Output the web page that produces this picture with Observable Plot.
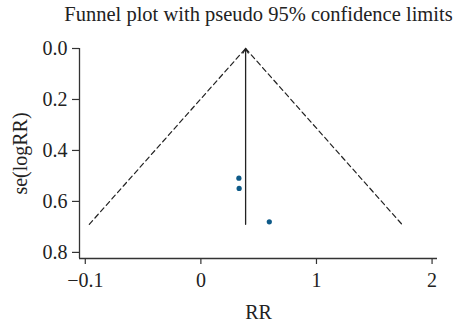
<!DOCTYPE html>
<html><head><meta charset="utf-8">
<script src="https://cdn.jsdelivr.net/npm/d3@7"></script>
<script src="https://cdn.jsdelivr.net/npm/@observablehq/plot@0.6"></script>
<style>body{margin:0;background:#fff}</style>
</head><body><div id="chart"></div>
<script>
// study estimates (x in axis units) and their standard errors
const studyX = [0.329, 0.331, 0.592];
const studySE = [0.509, 0.549, 0.680];
// pooled estimate and largest se used for the pseudo 95% limits
const pooledX = 0.387;
const seMax = 0.69;
const xTicks = [-1, 0, 1, 2];
const xTickLabels = ["\u22120.1", "0", "1", "2"];
const yTicks = [0, 0.2, 0.4, 0.6, 0.8];
const yTickLabels = ["0.0", "0.2", "0.4", "0.6", "0.8"];
const titleText = "Funnel plot with pseudo 95% confidence limits";
const xLabel = "RR";
const yLabel = "se(logRR)";

const studies = studyX.map((x, i) => ({x, se: studySE[i]}));
const leftLimit = [{x: pooledX - 1.96 * seMax, se: seMax}, {x: pooledX, se: 0}];
const rightLimit = [{x: pooledX, se: 0}, {x: pooledX + 1.96 * seMax, se: seMax}];

const xDom = [-1.05, 2.047];
const yDom = [0, 0.824];
const font = "Liberation Serif, Times New Roman, serif";
const ink = "#333";

const chart = Plot.plot({
  width: 456, height: 324,
  marginLeft: 79, marginRight: 19, marginTop: 48, marginBottom: 66,
  style: {fontFamily: font, fontSize: "20px", color: "#222", background: "#fff"},
  x: {domain: xDom, axis: null},
  y: {domain: yDom, reverse: true, axis: null},
  marks: [
    Plot.axisX({ticks: xTicks, tickFormat: (d, i) => xTickLabels[i], tickSize: 6, tickPadding: 8, label: null, stroke: ink, strokeWidth: 1.2, fontSize: 20}),
    Plot.axisY({ticks: yTicks, tickFormat: (d, i) => yTickLabels[i], tickSize: 7, tickPadding: 5, label: null, stroke: ink, strokeWidth: 1.2, fontSize: 20}),
    Plot.ruleX([xDom[0]], {y1: yDom[0], y2: yDom[1], stroke: ink, strokeWidth: 1.3}),
    Plot.ruleY([yDom[1]], {x1: xDom[0], x2: xDom[1], stroke: ink, strokeWidth: 1.3}),
    Plot.line(leftLimit, {x: "x", y: "se", stroke: "#222", strokeWidth: 1.2, strokeDasharray: "5,3.5"}),
    Plot.line(rightLimit, {x: "x", y: "se", stroke: "#222", strokeWidth: 1.2, strokeDasharray: "5,3.5"}),
    Plot.arrow([{x: pooledX}], {x1: "x", y1: () => seMax, x2: "x", y2: () => 0, stroke: "#222", strokeWidth: 1.3, headLength: 6, bend: 0}),
    Plot.dot(studies, {x: "x", y: "se", r: 2.6, fill: "#0e5a88", stroke: "none"}),
    Plot.text([titleText], {frameAnchor: "top", dy: -34, lineAnchor: "middle", fontSize: 20.5, fill: "#222"}),
    Plot.text([xLabel], {frameAnchor: "bottom", dy: 54, lineAnchor: "middle", fontSize: 20, fill: "#222"}),
    Plot.text([yLabel], {frameAnchor: "left", dx: -59, rotate: -90, textAnchor: "middle", lineAnchor: "middle", fontSize: 20, fill: "#222"})
  ]
});
document.getElementById("chart").appendChild(chart);
</script>
</body></html>
